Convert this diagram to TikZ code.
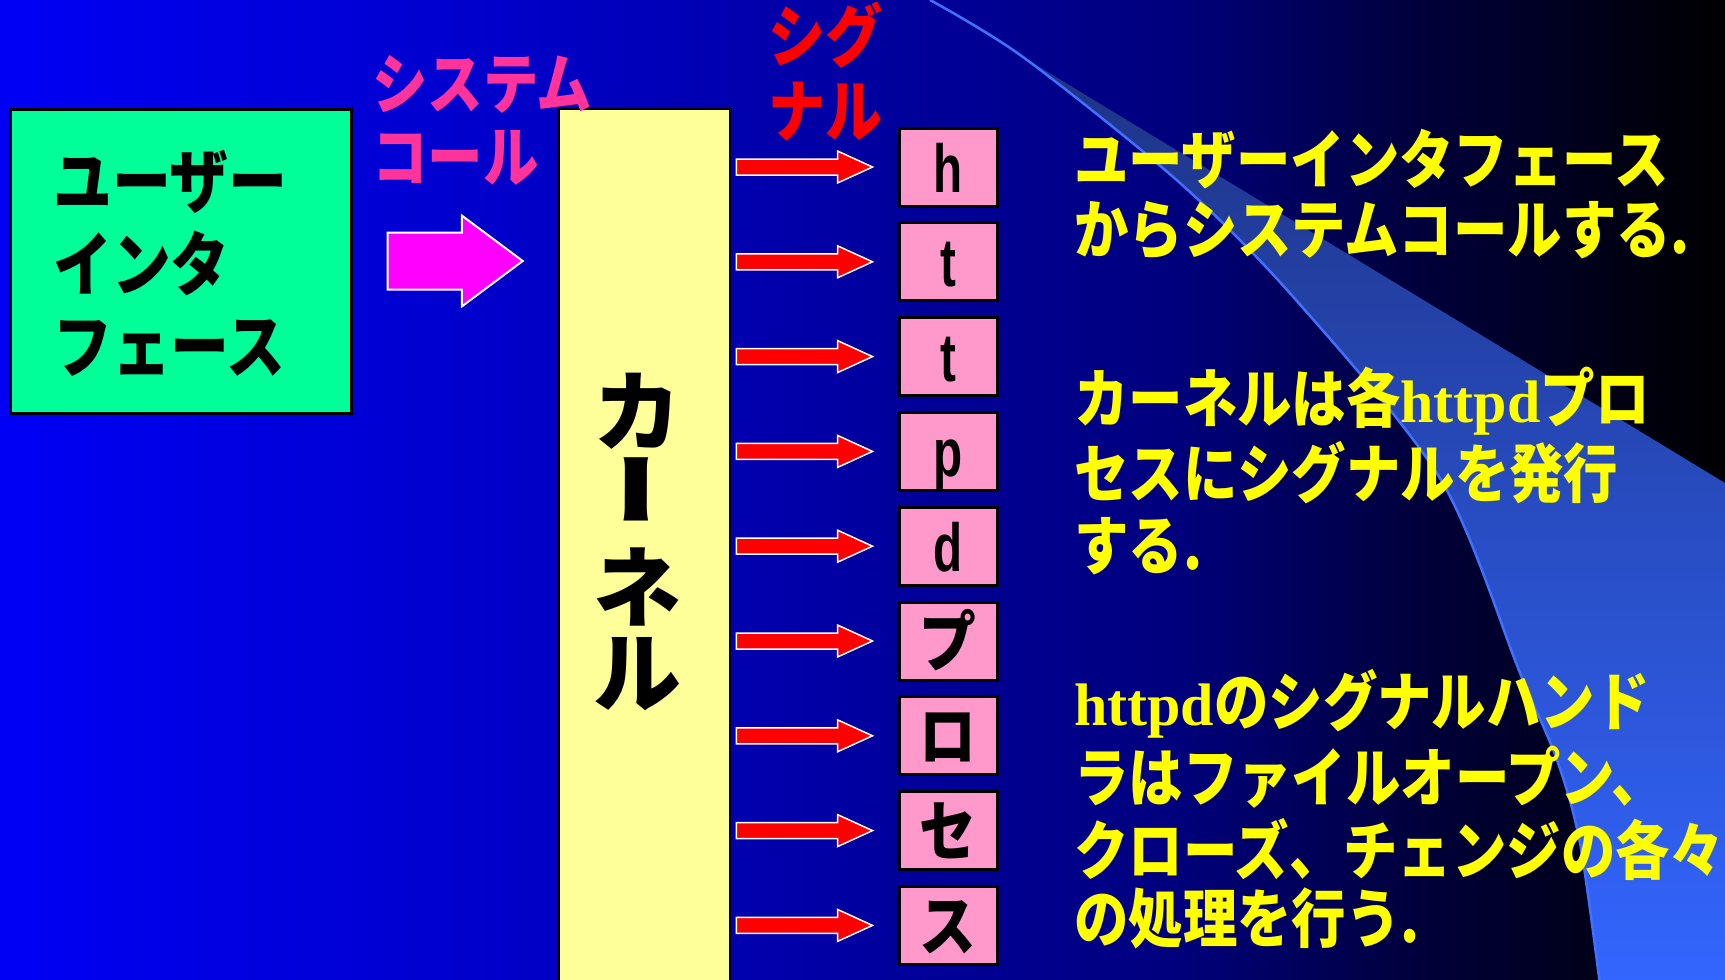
\documentclass[tikz,border=0pt]{standalone}
\usepackage{fontspec}
\usetikzlibrary{calc}
\newfontfamily\jpc[FakeStretch=0.85]{Noto Sans CJK JP}
\newfontfamily\jpu[FakeStretch=0.84]{Noto Sans CJK JP}
\newfontfamily\jpk{Noto Sans CJK JP}
\newfontfamily\jpv[RawFeature=+vert]{Noto Sans CJK JP}
\newfontfamily\jpb[FakeStretch=0.86]{Noto Sans CJK JP}
\newfontfamily\serb{Liberation Serif}
\newfontfamily\latb[FakeStretch=0.7]{Liberation Sans}
\newcommand{\hdword}{{\serb\bfseries\fontsize{60}{60}\selectfont httpd}}

\definecolor{bg0}{RGB}{0,0,245}
\definecolor{bg1}{RGB}{0,0,200}
\definecolor{bg2}{RGB}{0,0,160}
\definecolor{bg3}{RGB}{0,0,125}
\definecolor{bg4}{RGB}{0,0,60}
\definecolor{wA}{RGB}{28,48,125}
\definecolor{wB}{RGB}{46,92,222}
\definecolor{wC}{RGB}{51,102,255}
\definecolor{curveblue}{RGB}{64,112,255}
\definecolor{uigreen}{RGB}{0,255,153}
\definecolor{kyellow}{RGB}{255,255,153}
\definecolor{bpink}{RGB}{255,153,204}
\definecolor{scpink}{RGB}{255,51,153}
\definecolor{sigred}{RGB}{255,0,0}
\definecolor{txtyellow}{RGB}{255,255,0}
\definecolor{magenta2}{RGB}{255,0,255}
\pgfdeclarehorizontalshading{bgshade}{100bp}{color(0bp)=(bg0); color(25bp)=(bg0); color(40bp)=(bg1); color(50bp)=(bg2); color(59bp)=(bg3); color(66bp)=(bg4); color(75bp)=(black); color(100bp)=(black)}

\tikzset{
  fatarrow/.style n args={3}{to path={($(\tikztostart)+(0,-#1)$) -- ($(\tikztotarget)+(-#2,-#1)$) -- ($(\tikztotarget)+(-#2,-#3)$) -- (\tikztotarget) -- ($(\tikztotarget)+(-#2,#3)$) -- ($(\tikztotarget)+(-#2,#1)$) -- ($(\tikztostart)+(0,#1)$) -- cycle}},
  sigarrow/.style={draw=white, line width=1.5pt, fill=sigred, fatarrow={8}{35}{16}},
  sysarrow/.style={draw=white, line width=2pt, fill=magenta2, fatarrow={28.5}{61}{45.5}},
  uibox/.style={draw=black, line width=3pt, fill=uigreen, minimum width=341pt, minimum height=304pt, inner sep=0pt},
  kernbox/.style={draw=black, line width=2.5pt, fill=kyellow, minimum width=171pt, minimum height=880pt, inner sep=0pt},
  pbox/.style={draw=black, line width=3pt, fill=bpink, minimum width=98pt, minimum height=78pt, inner sep=0pt, text height=50pt, text depth=0pt, font=\latb\bfseries\fontsize{68}{68}\selectfont},
  pkana/.style={pbox, font=\jpb\bfseries\fontsize{66}{66}\selectfont},
  ytxt/.style={anchor=base west, inner sep=0pt, text=txtyellow, font=\jpc\bfseries\fontsize{64}{64}\selectfont},
  uitxt/.style={anchor=base west, inner sep=0pt, text=black, font=\jpu\bfseries\fontsize{70}{70}\selectfont},
  sctxt/.style={anchor=base west, inner sep=0pt, text=scpink, font=\jpu\bfseries\fontsize{66}{66}\selectfont},
  sgtxt/.style={anchor=base west, inner sep=0pt, text=sigred, font=\jpu\bfseries\fontsize{68}{68}\selectfont},
  ktxt/.style={anchor=base, inner sep=0pt, text=black, font=\jpk\bfseries\fontsize{88}{88}\selectfont},
}

\begin{document}
\begin{tikzpicture}[x=1pt, y=-1pt]
\useasboundingbox (0,0) rectangle (1725,980);
\shade[shading=bgshade] (0,0) rectangle (1725,980);
\shade[top color=wA, middle color=wB, bottom color=wC]
  plot[smooth] coordinates {(930,0) (1023,57) (1180,183) (1296,300) (1441,480) (1520,673) (1557,760) (1580,843) (1600,985)}
  -- (1725,985) -- (1725,483) -- (1023,57) -- cycle;
\draw[curveblue, line width=2.5pt]
  plot[smooth] coordinates {(930,0) (1023,57) (1180,183) (1296,300) (1441,480) (1520,673) (1557,760) (1580,843) (1600,985)};

\node[uibox] (ui) at (180.5,261) {};
\node[kernbox] (kern) at (644.5,549) {};

\node[pbox] (b1) at (948,167) {h};
\node[pbox] (b2) at (948,261.8) {t};
\node[pbox] (b3) at (948,356.6) {t};
\node[pbox] (b4) at (948,451.4) {p};
\node[pbox] (b5) at (948,546.2) {d};
\node[pkana] (b6) at (948,641) {プ};
\node[pkana] (b7) at (948,735.8) {ロ};
\node[pkana] (b8) at (948,830.6) {セ};
\node[pkana] (b9) at (948,925.4) {ス};

\path[sysarrow] ($(ui.east)+(35,0)$) to ($(kern.west |- ui.east)+(-35,0)$);
\foreach \i in {1,...,9}
  \path[sigarrow] ($(kern.east |- b\i.west)+(5,0)$) to ($(b\i.west)+(-25,0)$);

\node[uitxt] (u1) at (53,207) {ユーザー};
\node[uitxt] (u2) at (53,290) {インタ};
\node[uitxt] (u3) at (53,372) {フェース};

\node[sctxt] (s1) at (372,108) {システム};
\node[sctxt] (s2) at (372,181) {コール};

\node[sgtxt] (g1) at (768,61) {シグ};
\node[sgtxt] (g2) at (768,136) {ナル};

\node[ktxt] (k1) at (637,444) {カ};
\node[ktxt, font=\jpv\bfseries\fontsize{88}{88}\selectfont] (k2) at (637,520) {\scalebox{1.5}[0.9]{ー}};
\node[ktxt] (k3) at (637,620) {ネ};
\node[ktxt] (k4) at (637,705) {ル};

\node[ytxt] (y11) at (1074,183) {ユーザーインタフェース};
\node[ytxt] (y12) at (1074,253) {からシステムコールする.};
\node[ytxt] (y21) at (1074,422) {カーネルは各\hdword プロ};
\node[ytxt] (y22) at (1074,497) {セスにシグナルを発行};
\node[ytxt] (y23) at (1074,569) {する.};
\node[ytxt] (y31) at (1074,725) {\hdword のシグナルハンド};
\node[ytxt] (y32) at (1074,801) {ラはファイルオープン、};
\node[ytxt] (y33) at (1074,874) {クローズ、チェンジの各々};
\node[ytxt] (y34) at (1074,942) {の処理を行う.};
\end{tikzpicture}
\end{document}
